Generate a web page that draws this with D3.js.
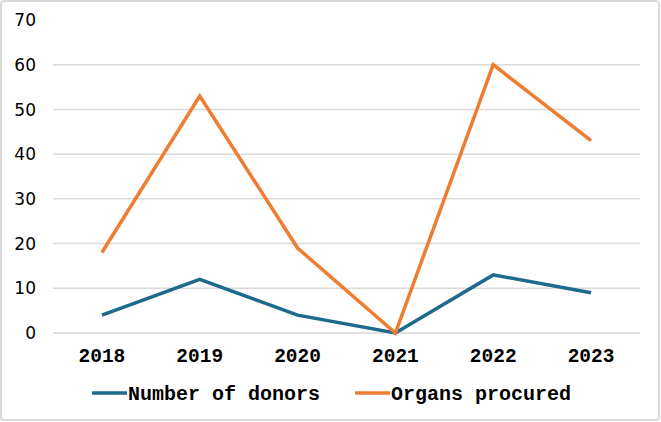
<!DOCTYPE html>
<html><head><meta charset="utf-8">
<script src="https://cdn.jsdelivr.net/npm/d3@7"></script>
<style>body{margin:0;background:#fff}svg{display:block}</style>
</head><body>
<script>
const years = ["2018","2019","2020","2021","2022","2023"];
const donors = [4, 12, 4, 0, 13, 9];
const organs = [18, 53, 19, 0, 60, 43];
const yTicks = [0,10,20,30,40,50,60,70];
const seriesNames = ["Number of donors","Organs procured"];
const colors = ["#1d6a8c","#ee7d31"];
const mono = "'Courier New', Courier, 'Nimbus Mono PS', 'Nimbus Mono L', FreeMono, 'Liberation Mono', monospace";

const W=661,H=422;
const svg=d3.select("body").append("svg").attr("width",W).attr("height",H);
svg.append("rect").attr("x",1).attr("y",1).attr("width",W-3).attr("height",H-3).attr("rx",3)
  .attr("fill","#fff").attr("stroke","#d9d9d9").attr("stroke-width",2);

const x=d3.scaleBand().domain(years).range([53,640]);
const y=d3.scaleLinear().domain([0,70]).range([333,20]);

const grid=svg.append("g");
grid.selectAll("line").data(yTicks.filter(t=>t<70)).join("line")
  .attr("x1",53).attr("x2",640).attr("y1",d=>y(d)).attr("y2",d=>y(d))
  .attr("stroke","#d9d9d9").attr("stroke-width",1.5);

svg.append("g").selectAll("text").data(yTicks).join("text")
  .attr("x",36).attr("y",d=>y(d)).attr("dy","0.36em").attr("text-anchor","end")
  .attr("font-family","DejaVu Sans, Verdana, sans-serif").attr("font-size",17).attr("fill","#000")
  .text(d=>d);

svg.append("g").selectAll("text").data(years).join("text")
  .attr("x",d=>x(d)+x.bandwidth()/2).attr("y",362).attr("text-anchor","middle")
  .attr("font-family",mono).attr("font-weight","bold")
  .attr("font-size",19.5).attr("fill","#000").text(d=>d);

const line=d3.line().x((d,i)=>x(years[i])+x.bandwidth()/2).y(d=>y(d));
[donors,organs].forEach((s,k)=>{
  svg.append("path").attr("d",line(s)).attr("fill","none").attr("stroke",colors[k])
    .attr("stroke-width",3.5).attr("stroke-linejoin","miter");
});

const legX=[92,355];
seriesNames.forEach((n,k)=>{
  svg.append("line").attr("x1",legX[k]).attr("x2",legX[k]+35).attr("y1",393).attr("y2",393)
    .attr("stroke",colors[k]).attr("stroke-width",3.5);
  svg.append("text").attr("x",legX[k]+36).attr("y",393).attr("dy","0.35em")
    .attr("font-family",mono).attr("font-weight","bold")
    .attr("font-size",20).attr("fill","#000").text(n);
});
</script>
</body></html>
